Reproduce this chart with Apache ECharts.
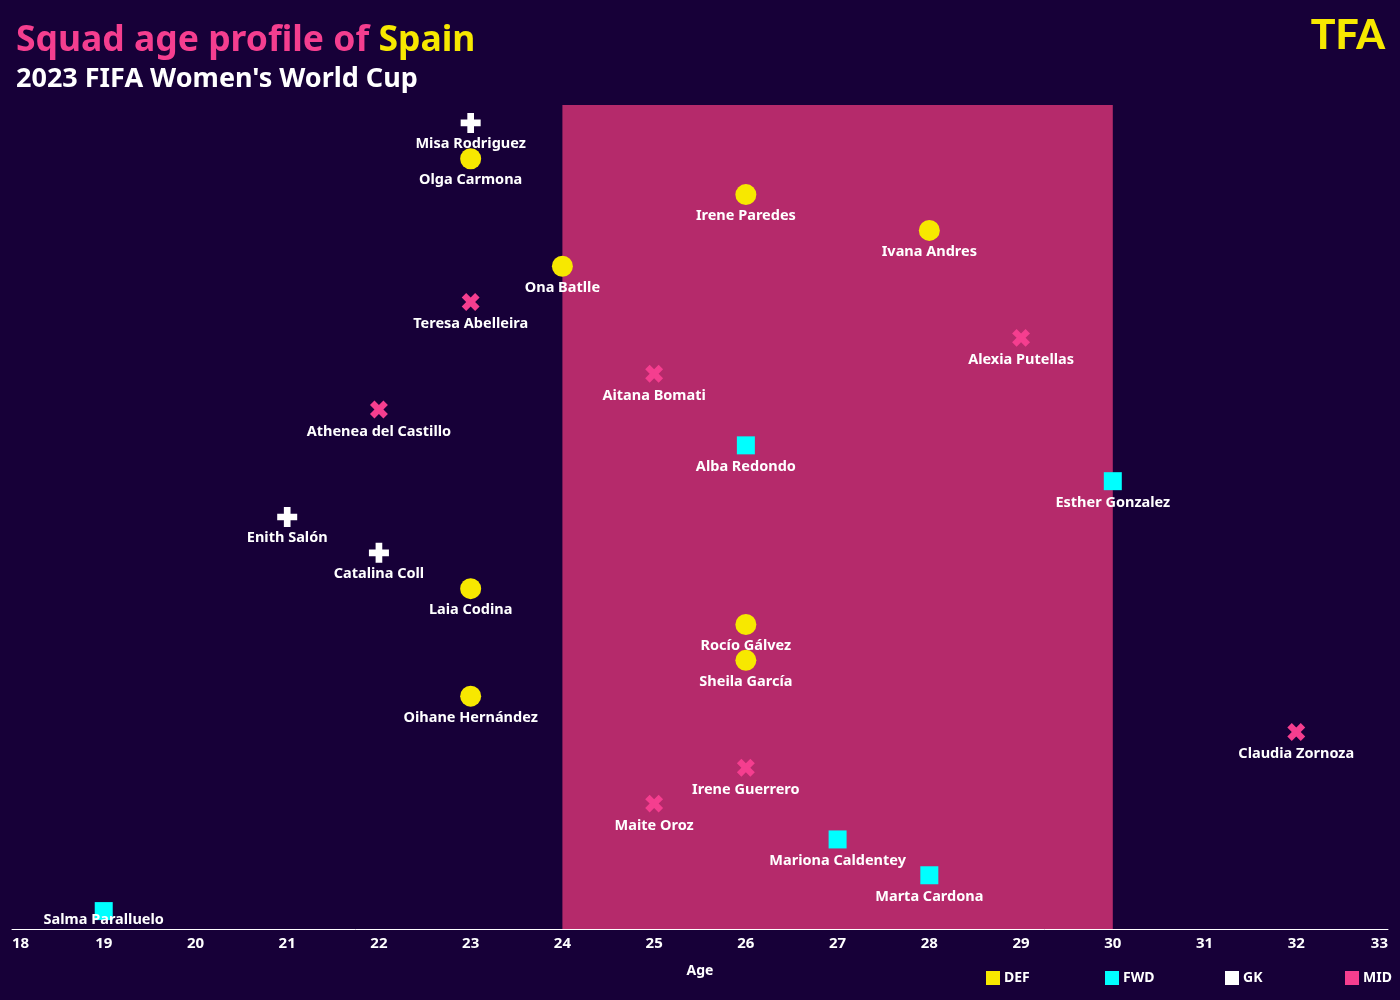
<!DOCTYPE html>
<html>
<head>
<meta charset="utf-8">
<script src="https://cdn.jsdelivr.net/npm/echarts@6/dist/echarts.min.js"></script>
<style>html,body{margin:0;padding:0;background:#170038;}#c{width:1400px;height:1000px;}</style>
</head>
<body>
<div id="c"></div>
<script>
const players = ["Misa Rodriguez","Olga Carmona","Irene Paredes","Ivana Andres","Ona Batlle","Teresa Abelleira","Alexia Putellas","Aitana Bomati","Athenea del Castillo","Alba Redondo","Esther Gonzalez","Enith Salón","Catalina Coll","Laia Codina","Rocío Gálvez","Sheila García","Oihane Hernández","Claudia Zornoza","Irene Guerrero","Maite Oroz","Mariona Caldentey","Marta Cardona","Salma Paralluelo"];
const ages = [23,23,26,28,24,23,29,25,22,26,30,21,22,23,26,26,23,32,26,25,27,28,19];
const positions = ["GK","DEF","DEF","DEF","DEF","MID","MID","MID","MID","FWD","FWD","GK","GK","DEF","DEF","DEF","DEF","MID","MID","MID","FWD","FWD","FWD"];
const groups = ["DEF","FWD","GK","MID"];
const peakAge = [24,30];
const xTicks = [18,33];

const FONT = "Noto Sans";
const colors = {DEF:"#f7e800", FWD:"#00ffff", GK:"#ffffff", MID:"#f53e8f"};
const plusPath = 'path://M-1,-3H1V-1H3V1H1V3H-1V1H-3V-1H-1Z';
const symbols = {
  DEF:{symbol:'circle', size:21, rotate:0, adj:0},
  FWD:{symbol:'rect', size:18, rotate:0, adj:0},
  GK:{symbol:plusPath, size:20, rotate:0, adj:0},
  MID:{symbol:plusPath, size:19, rotate:45, adj:-3}
};
const LABEL_SIZE = 14.5;

const series = [{
  type:'scatter', name:'band', data:[], silent:true, z:1,
  markArea:{silent:true, itemStyle:{color:'#b52a6b', opacity:1},
    data:[[{xAxis:peakAge[0]},{xAxis:peakAge[1]}]]}
}];
groups.forEach(g=>{
  const data=[];
  const dist = 21 - symbols[g].size/2 - LABEL_SIZE/2 + symbols[g].adj;
  players.forEach((p,i)=>{
    if(positions[i]!==g) return;
    const item={value:[ages[i], i], name:p};
    if(i===players.length-1) item.label={distance:-8};
    data.push(item);
  });
  series.push({
    type:'scatter', name:g, data:data, z:3,
    symbol:symbols[g].symbol, symbolSize:symbols[g].size, symbolRotate:symbols[g].rotate,
    itemStyle:{color:colors[g], opacity:1},
    label:{show:true, position:'bottom', distance:dist, formatter:p=>p.name,
      color:'#ffffff', fontFamily:FONT, fontWeight:'bold', fontSize:LABEL_SIZE}
  });
});

const legendLefts = [986, 1105, 1225, 1345];
const legends = groups.map((g,k)=>({
  data:[g], left:legendLefts[k], top:971, itemGap:0, itemWidth:14, itemHeight:14, icon:'rect', padding:0,
  textStyle:{color:'#ffffff', fontFamily:FONT, fontWeight:'bold', fontSize:14, padding:[0,0,0,-1]},
  itemStyle:{opacity:1}
}));

const chart = echarts.init(document.getElementById('c'), null, {renderer:'canvas'});
chart.setOption({
  backgroundColor:'#170038',
  animation:false,
  title:[
    {text:'{a|Squad age profile of }{b|Spain}', left:16, top:23, padding:0,
      textStyle:{rich:{a:{color:'#f53e8f', fontSize:35.5, fontWeight:'bold', fontFamily:FONT},
                       b:{color:'#f7e800', fontSize:35.5, fontWeight:'bold', fontFamily:FONT}}}},
    {text:"2023 FIFA Women's World Cup", left:16, top:66, padding:0,
      textStyle:{color:'#ffffff', fontSize:27, fontWeight:'bold', fontFamily:FONT}}
  ],
  graphic:[{type:'text', right:15, top:15, style:{text:'TFA', fill:'#f7e800', font:'900 41px Lato'}}],
  legend:legends,
  grid:{left:12, right:12, top:105, bottom:71, containLabel:false},
  xAxis:{
    type:'value', min:xTicks[0], max:xTicks[1], interval:1, position:'bottom',
    name:'Age', nameLocation:'middle', nameGap:35,
    nameTextStyle:{color:'#ffffff', fontFamily:FONT, fontWeight:'bold', fontSize:14},
    axisLine:{show:true, onZero:false, lineStyle:{color:'#ffffff', width:1}},
    axisTick:{show:false}, splitLine:{show:false},
    axisLabel:{color:'#ffffff', fontFamily:FONT, fontWeight:'bold', fontSize:15, margin:7,
      alignMinLabel:'left', alignMaxLabel:'right'}
  },
  yAxis:{
    type:'value', min:-0.5, max:players.length-0.5, inverse:true, show:false
  },
  series:series
});
</script>
</body>
</html>
